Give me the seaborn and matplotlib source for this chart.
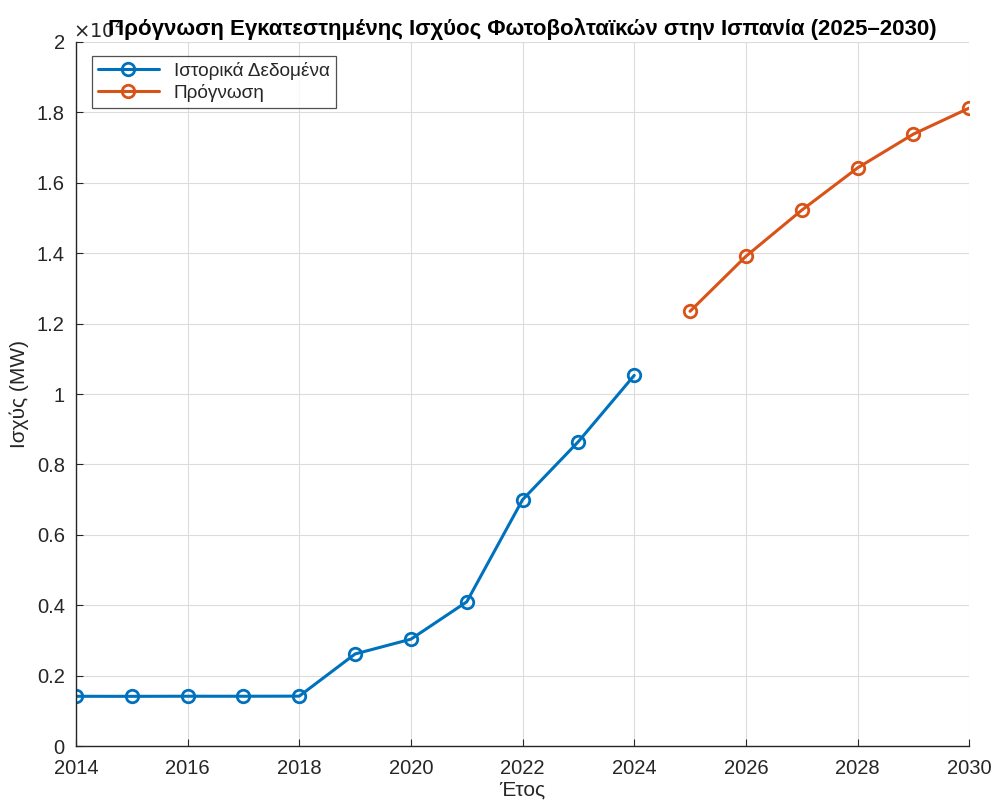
import pandas as pd
import seaborn as sns
import matplotlib.pyplot as plt

# Historical and forecast installed PV capacity in Spain (MW)
hist_years = [2014, 2015, 2016, 2017, 2018, 2019, 2020, 2021, 2022, 2023, 2024]
hist_mw = [1418, 1417, 1420, 1419, 1423, 2620, 3040, 4100, 7000, 8650, 10530]

fc_years = [2025, 2026, 2027, 2028, 2029, 2030]
fc_mw = [12350, 13910, 15220, 16420, 17380, 18120]

labels = ["Ιστορικά Δεδομένα", "Πρόγνωση"]
colors = ["#0072BD", "#D95319"]

df = pd.concat([
    pd.DataFrame({"Year": hist_years, "MW": hist_mw, "Series": labels[0]}),
    pd.DataFrame({"Year": fc_years, "MW": fc_mw, "Series": labels[1]}),
])
df["MW_scaled"] = df["MW"] / 1e4

sns.set_style("white")
plt.rcParams["font.family"] = ["Liberation Sans", "DejaVu Sans"]

fig = plt.figure(figsize=(9.93, 8.05), dpi=100)
ax = fig.add_axes([0.0765, 0.073, 0.8995, 0.875])

sns.lineplot(
    data=df, x="Year", y="MW_scaled", hue="Series",
    palette=colors, marker="o", markersize=9, markerfacecolor="none",
    markeredgewidth=2, linewidth=2.2, ax=ax, legend=False,
)
lines = ax.get_lines()[:2]
for line, c in zip(lines, colors):
    line.set_markeredgecolor(c)

ax.set_xlim(2014, 2030)
ax.set_ylim(0, 2)
ax.set_xticks(range(2014, 2031, 2))
ax.set_yticks([0, 0.2, 0.4, 0.6, 0.8, 1, 1.2, 1.4, 1.6, 1.8, 2])
ax.set_yticklabels(["0", "0.2", "0.4", "0.6", "0.8", "1", "1.2", "1.4", "1.6", "1.8", "2"])
ax.grid(True, color="#dcdcdc", linewidth=0.8)
ax.tick_params(direction="in", length=5, labelsize=14.5, colors="#262626",
               left=True, bottom=True)
ax.tick_params(axis="x", pad=9)
ax.tick_params(axis="y", pad=8)
for s in ["top", "right"]:
    ax.spines[s].set_visible(False)
for s in ["left", "bottom"]:
    ax.spines[s].set_color("#262626")
    ax.spines[s].set_linewidth(1.0)

ax.set_xlabel("Έτος", fontsize=15, color="#262626", labelpad=2)
ax.set_ylabel("Ισχύς (MW)", fontsize=15, color="#262626", labelpad=6)
ax.set_title("Πρόγνωση Εγκατεστημένης Ισχύος Φωτοβολταϊκών στην Ισπανία (2025–2030)",
             fontsize=16, fontweight="bold", color="black", pad=5, x=0.5)
ax.text(-0.003, 1.0, r"$\times10^{4}$", transform=ax.transAxes, fontsize=14,
        color="#262626", ha="left", va="bottom")

leg = ax.legend(lines, labels, loc="upper left", fontsize=13.7, frameon=True,
                fancybox=False, borderpad=0.3, handlelength=3.2,
                labelspacing=0.2, bbox_to_anchor=(0.0075, 0.993))
leg.get_frame().set_edgecolor("#262626")
leg.get_frame().set_linewidth(0.9)

fig.savefig("out.png", dpi=100)
